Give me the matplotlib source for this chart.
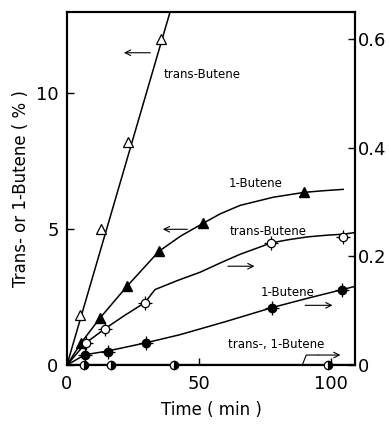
import numpy as np
import matplotlib.pyplot as plt

# left axis (%) : open / filled triangles
t_trans_L = [4.9, 12.9, 23.1, 35.6]
y_trans_L = [1.84, 5.0, 8.2, 11.99]
curve_trans_L_x = [0, 39.0]
curve_trans_L_y = [0, 13.0]

t_1but_L = [5.3, 12.5, 22.7, 34.8, 51.5, 89.8]
y_1but_L = [0.81, 1.73, 2.9, 4.19, 5.22, 6.36]
curve_1but_L_x = [0, 5.3, 12.5, 22.7, 34.8, 43.0, 51.5, 58.0, 65.5, 78.0, 89.8, 97.0, 104.5]
curve_1but_L_y = [0, 0.81, 1.73, 2.9, 4.19, 4.75, 5.22, 5.57, 5.88, 6.18, 6.36, 6.42, 6.47]

# right axis : open circles, filled circles, half circles
t_trans_R = [7.2, 14.4, 29.5, 77.3, 104.5]
y_trans_R = [0.041, 0.067, 0.115, 0.225, 0.236]
curve_trans_R_x = [0, 7.2, 14.4, 22.0, 29.5, 33.3, 42.0, 50.4, 58.0, 65.5, 77.3, 84.0, 91.0, 98.0, 104.5, 109.0]
curve_trans_R_y = [0, 0.041, 0.067, 0.092, 0.115, 0.139, 0.156, 0.171, 0.188, 0.204, 0.225, 0.231, 0.236, 0.239, 0.241, 0.244]

t_1but_R = [6.8, 15.5, 29.9, 77.7, 104.2]
y_1but_R = [0.019, 0.024, 0.041, 0.106, 0.139]
curve_1but_R_x = [0, 6.8, 15.5, 29.9, 42.8, 60.0, 77.7, 91.0, 104.2, 109.0]
curve_1but_R_y = [0, 0.019, 0.026, 0.041, 0.056, 0.080, 0.106, 0.123, 0.139, 0.145]

t_both_R = [6.4, 16.7, 40.5, 98.9]
y_both_R = [0.0, 0.0, 0.0, 0.0]
curve_both_R_x = [0, 109.0]
curve_both_R_y = [0, 0]


fig = plt.figure(figsize=(3.89, 4.29), dpi=100)
ax = fig.add_axes([0.172, 0.149, 0.741, 0.823])
ax1 = ax.twinx()

lw = 1.1
ax.plot(curve_trans_L_x, curve_trans_L_y, '-', color='k', lw=lw)
ax.plot(t_trans_L, y_trans_L, '^', ms=7, mfc='white', mec='k', mew=0.9)
ax.plot(curve_1but_L_x, curve_1but_L_y, '-', color='k', lw=lw)
ax.plot(t_1but_L, y_1but_L, '^', ms=7, mfc='k', mec='k')

ax1.plot(curve_trans_R_x, curve_trans_R_y, '-', color='k', lw=lw)
ax1.plot(t_trans_R, y_trans_R, '+', ms=10, mec='k', mew=0.9)
ax1.plot(t_trans_R, y_trans_R, 'o', ms=6, mfc='white', mec='k', mew=0.9)
ax1.plot(curve_1but_R_x, curve_1but_R_y, '-', color='k', lw=lw)
ax1.plot(t_1but_R, y_1but_R, '+', ms=10, mec='k', mew=0.9)
ax1.plot(t_1but_R, y_1but_R, 'o', ms=6, mfc='k', mec='k')
ax1.plot(curve_both_R_x, curve_both_R_y, '-', color='k', lw=1.6)
ax1.plot(t_both_R, y_both_R, 'o', ms=6, fillstyle='right', mfc='k',
         mfcalt='white', mec='k', mew=0.9, clip_on=False, zorder=5)

ax.set_xlim(0, 109)
ax.set_ylim(0, 13)
ax1.set_ylim(0, 0.65)
ax.set_xticks([0, 50, 100])
ax.set_yticks([0, 5, 10])
ax1.set_yticks([0, 0.2, 0.4, 0.6])
ax1.set_yticklabels(['0', '0.2', '0.4', '0.6'])

for a in (ax, ax1):
    for s in a.spines.values():
        s.set_linewidth(1.5)
ax.tick_params(axis='both', direction='in', length=5, width=1, labelsize=13, pad=4)
ax1.tick_params(axis='y', direction='in', length=5, width=1, labelsize=13, pad=2)
ax.tick_params(axis='y', pad=6)
ax.tick_params(axis='x', pad=7)

ax.set_xlabel('Time ( min )', fontsize=12, labelpad=6)
ax.set_ylabel('Trans- or 1-Butene ( % )', fontsize=12, labelpad=4)

# labels and arrows
arr = dict(arrowstyle='->', color='k', lw=0.8)
fs = 8.5
ax.text(36.4, 10.7, 'trans-Butene', fontsize=fs, va='center')
ax.annotate('', xy=(20.5, 11.5), xytext=(32.6, 11.5), arrowprops=arr)
ax.text(61, 6.69, '1-Butene', fontsize=fs, va='center')
ax.annotate('', xy=(35.2, 5.0), xytext=(46.6, 5.0), arrowprops=arr)
ax.text(61.4, 4.9, 'trans-Butene', fontsize=fs, va='center')
ax.annotate('', xy=(72, 3.64), xytext=(59.8, 3.64), arrowprops=arr)
ax.text(73.1, 2.68, '1-Butene', fontsize=fs, va='center')
ax.annotate('', xy=(101.5, 2.2), xytext=(89, 2.2), arrowprops=arr)
ax.text(61, 0.74, 'trans-, 1-Butene', fontsize=fs, va='center')
ax.plot([89, 90.5, 95], [0, 0.37, 0.37], '-', color='k', lw=0.8)
ax.annotate('', xy=(104.5, 0.37), xytext=(94, 0.37), arrowprops=arr)

fig.savefig('out.png', dpi=100)
